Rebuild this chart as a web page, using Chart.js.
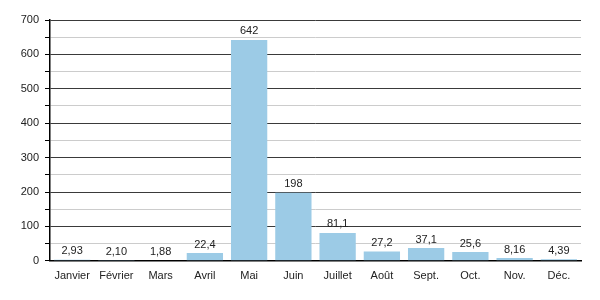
<!DOCTYPE html>
<html><head><meta charset="utf-8">
<script src="https://cdn.jsdelivr.net/npm/chart.js@4"></script>
<style>html,body{margin:0;padding:0;background:#fff}</style>
</head><body>
<canvas id="c" width="600" height="300"></canvas>
<script>
const categories = ["Janvier","Février","Mars","Avril","Mai","Juin","Juillet","Août","Sept.","Oct.","Nov.","Déc."];
const values = [2.93, 2.10, 1.88, 22.4, 642, 198, 81.1, 27.2, 37.1, 25.6, 8.16, 4.39];
const valueLabels = ["2,93","2,10","1,88","22,4","642","198","81,1","27,2","37,1","25,6","8,16","4,39"];
const yMax = 700, yStep = 50, yLabelStep = 100;

const FONT = "'Liberation Sans', Arial, sans-serif";
Chart.defaults.font.family = FONT;
Chart.defaults.font.size = 11;
Chart.defaults.color = '#222';

const labelPlugin = {
  id: 'vlabels',
  afterDatasetsDraw(chart) {
    const ctx = chart.ctx;
    const meta = chart.getDatasetMeta(0);
    ctx.save();
    ctx.font = "11px " + FONT;
    ctx.fillStyle = '#222';
    ctx.textAlign = 'center';
    ctx.textBaseline = 'bottom';
    meta.data.forEach((bar, i) => {
      ctx.fillText(valueLabels[i], bar.x, bar.y - 3);
    });
    ctx.restore();
  }
};

new Chart(document.getElementById('c'), {
  type: 'bar',
  data: {
    labels: categories,
    datasets: [{
      data: values,
      backgroundColor: '#9ccbe6',
      borderWidth: 0,
      barPercentage: 0.82,
      categoryPercentage: 1.0
    }]
  },
  options: {
    responsive: false,
    animation: false,
    layout: { padding: { top: 20, right: 19, left: 0, bottom: 16 } },
    plugins: { legend: { display: false }, tooltip: { enabled: false } },
    scales: {
      x: {
        grid: { display: false },
        border: { display: true, color: '#000', width: 1.5 },
        ticks: { color: '#222', padding: 1, maxRotation: 0, autoSkip: false }
      },
      y: {
        min: 0, max: yMax,
        afterFit(scale) { scale.width = 50; },
        border: { display: true, color: '#000', width: 1.5 },
        grid: {
          color: (c) => (c.tick && c.tick.value % yLabelStep === 0) ? '#3a3a3a' : '#cccccc',
          tickColor: '#000',
          tickLength: 5,
          lineWidth: 1
        },
        ticks: {
          stepSize: yStep,
          padding: 6,
          color: '#222',
          callback: (v) => (v % yLabelStep === 0) ? String(v) : ''
        }
      }
    }
  },
  plugins: [labelPlugin]
});
</script>
</body></html>
